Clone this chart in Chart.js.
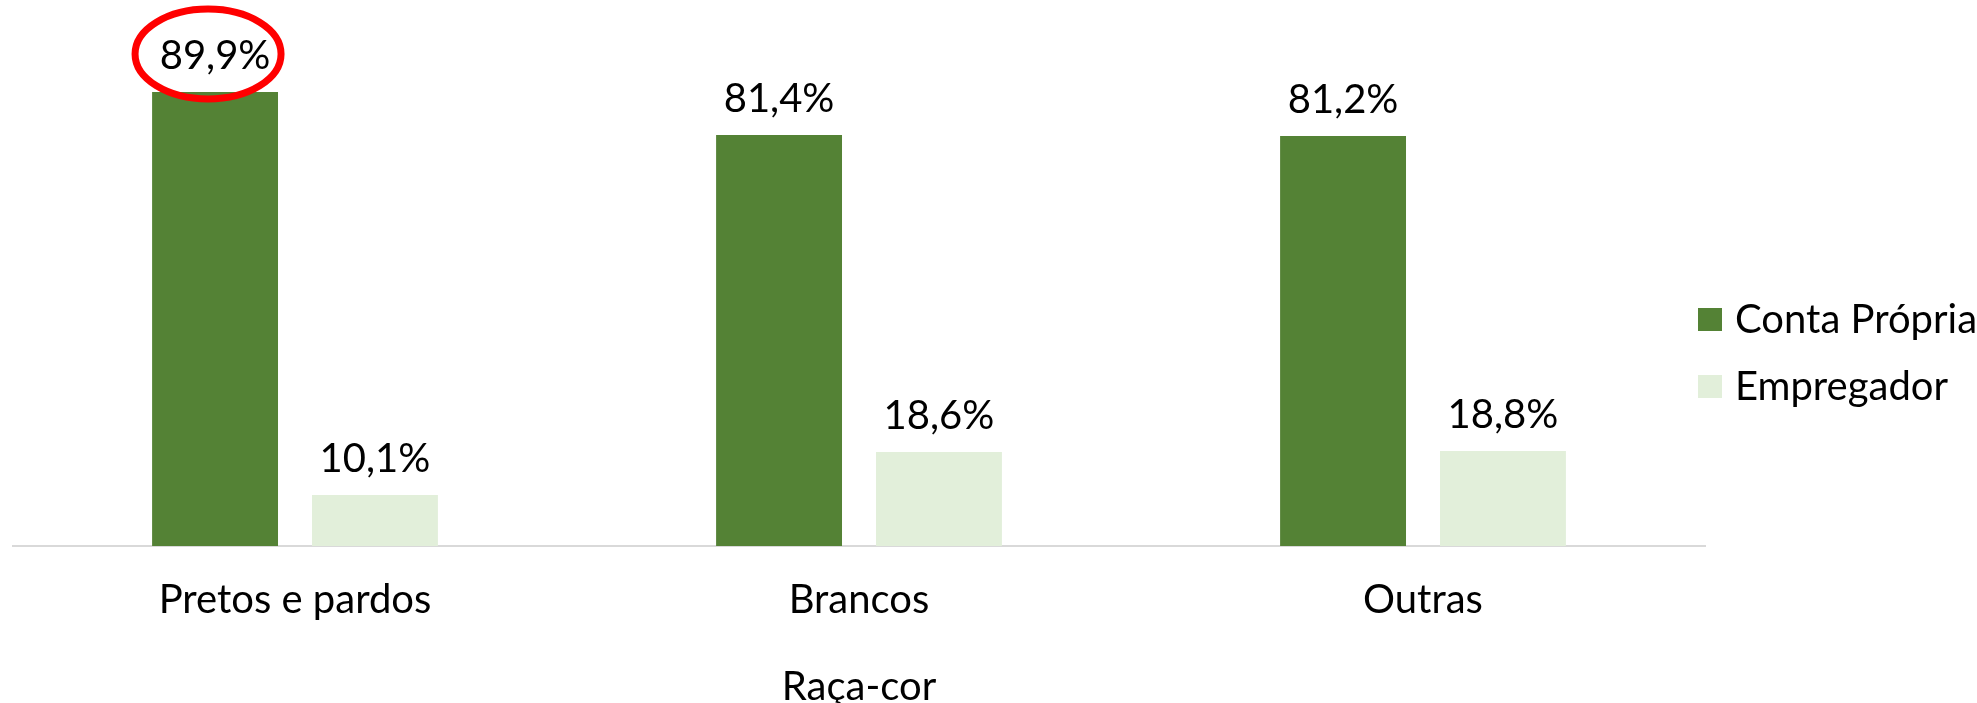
<!DOCTYPE html>
<html>
<head>
<meta charset="utf-8">
<script src="https://cdn.jsdelivr.net/npm/chart.js@4"></script>
<style>
  html, body { margin: 0; padding: 0; background: #fff; }
  #wrap { width: 1977px; height: 703px; }
</style>
</head>
<body>
<div id="wrap"><canvas id="grafico"></canvas></div>
<script>
const categorias = ["Pretos e pardos", "Brancos", "Outras"];
const contaPropria = [89.9, 81.4, 81.2];
const empregador = [10.1, 18.6, 18.8];
const series = ["Conta Própria", "Empregador"];
const tituloEixo = "Raça-cor";

const FONTE = "Lato, 'Open Sans', sans-serif";
const TAM = 40;

function formatarPct(v) {
  return v.toFixed(1).replace(".", ",") + "%";
}

// rótulos em cima das barras + destaque vermelho no primeiro
const rotulos = {
  id: "rotulos",
  afterDatasetsDraw(chart) {
    const ctx = chart.ctx;
    ctx.save();
    ctx.font = `${TAM}px ${FONTE}`;
    ctx.fillStyle = "#000";
    ctx.textAlign = "center";
    ctx.textBaseline = "alphabetic";
    chart.data.datasets.forEach((ds, i) => {
      chart.getDatasetMeta(i).data.forEach((el, j) => {
        ctx.fillText(formatarPct(ds.data[j]), el.x, el.y - 23);
      });
    });
    const el = chart.getDatasetMeta(0).data[0];
    ctx.beginPath();
    ctx.ellipse(el.x - 7, el.y - 38, 73, 45, 0, 0, Math.PI * 2);
    ctx.strokeStyle = "#ff0000";
    ctx.lineWidth = 7;
    ctx.stroke();
    ctx.restore();
  }
};

// legenda desenhada à mão (fica à direita, meio em cima do eixo)
const legenda = {
  id: "legenda",
  afterDraw(chart) {
    const ctx = chart.ctx;
    ctx.save();
    ctx.font = `${TAM}px ${FONTE}`;
    ctx.textBaseline = "middle";
    ctx.textAlign = "left";
    chart.data.datasets.forEach((ds, i) => {
      const y = 320 + i * 67;
      ctx.fillStyle = ds.backgroundColor;
      ctx.fillRect(1698, y - 12, 24, 23);
      ctx.fillStyle = "#000";
      ctx.fillText(ds.label, 1735, y);
    });
    ctx.restore();
  }
};

const ctx = document.getElementById("grafico").getContext("2d");
new Chart(ctx, {
  type: "bar",
  data: {
    labels: categorias,
    datasets: [
      { label: series[0], data: contaPropria, backgroundColor: "#548235" },
      { label: series[1], data: empregador, backgroundColor: "#e2efda" }
    ]
  },
  options: {
    responsive: true,
    maintainAspectRatio: false,
    animation: false,
    categoryPercentage: 0.567,
    barPercentage: 0.7875,
    layout: { padding: { left: 13, right: 272, top: 41, bottom: -8 } },
    plugins: {
      legend: { display: false },
      tooltip: { enabled: false }
    },
    scales: {
      y: { display: false, min: 0, max: 100 },
      x: {
        grid: { display: false, drawTicks: false },
        border: { color: "#d9d9d9", width: 2 },
        ticks: { color: "#000", padding: 30, font: { family: FONTE, size: TAM } },
        title: {
          display: true,
          text: tituloEixo,
          color: "#000",
          font: { family: FONTE, size: TAM },
          padding: { top: 9, bottom: 0 }
        }
      }
    }
  },
  plugins: [rotulos, legenda]
});
</script>
</body>
</html>
